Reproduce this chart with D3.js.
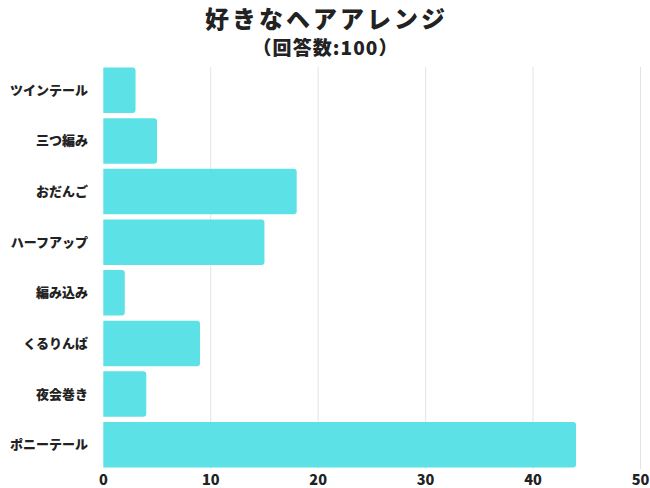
<!DOCTYPE html>
<html>
<head>
<meta charset="utf-8">
<script src="https://cdn.jsdelivr.net/npm/d3@7"></script>
<style>
  body { margin: 0; background: #fff; }
  text { font-family: "Noto Sans CJK JP", "Noto Sans", sans-serif; }
</style>
</head>
<body>
<script>
//chart data
var categories = ["ツインテール", "三つ編み", "おだんご", "ハーフアップ", "編み込み", "くるりんぱ", "夜会巻き", "ポニーテール"];
var counts = [3, 5, 18, 15, 2, 9, 4, 44];
var xTicks = [0, 10, 20, 30, 40, 50];
var title = "好きなヘアアレンジ";
var subtitle = "（回答数:100）";

var w = 650, h = 488;

var svg = d3.select("body")
    .append("svg")
    .attr("width", w)
    .attr("height", h);

var x = d3.scaleLinear()
    .domain([0, 50])
    .range([103.3, 640.5]);

var y = d3.scaleBand()
    .domain(categories)
    .range([65, 470])
    .paddingInner(0.1)
    .paddingOuter(0.05);

//gridlines
svg.append("g")
    .selectAll("line")
    .data(xTicks.slice(1))
    .enter()
    .append("line")
    .attr("x1", function(d){ return x(d); })
    .attr("x2", function(d){ return x(d); })
    .attr("y1", 67)
    .attr("y2", 469)
    .style("stroke", "#e3e3e3")
    .style("stroke-width", 1);

//bars, small rounded right end
var rows = categories.map(function(c, i){ return { name: c, value: counts[i] }; });
var r = 3;
svg.append("g")
    .selectAll("path")
    .data(rows)
    .enter()
    .append("path")
    .attr("d", function(d){
        var x0 = x(0), x1 = x(d.value), y0 = y(d.name), bh = y.bandwidth();
        return "M" + x0 + "," + y0 +
            "H" + (x1 - r) +
            "Q" + x1 + "," + y0 + " " + x1 + "," + (y0 + r) +
            "V" + (y0 + bh - r) +
            "Q" + x1 + "," + (y0 + bh) + " " + (x1 - r) + "," + (y0 + bh) +
            "H" + x0 + "Z";
    })
    .style("fill", "#5ce1e6");

//category labels
svg.append("g")
    .selectAll("text")
    .data(categories)
    .enter()
    .append("text")
    .attr("x", 88)
    .attr("y", function(d){ return y(d) + y.bandwidth() / 2; })
    .attr("dy", "0.35em")
    .attr("text-anchor", "end")
    .style("font-size", "13px")
    .style("font-weight", 900)
    .style("fill", "#222")
    .text(function(d){ return d; });

//x axis tick labels
svg.append("g")
    .selectAll("text")
    .data(xTicks)
    .enter()
    .append("text")
    .attr("x", function(d){ return x(d); })
    .attr("y", 485)
    .attr("text-anchor", "middle")
    .style("font-size", "14.5px")
    .style("font-weight", 900)
    .style("fill", "#222")
    .text(function(d){ return d; });

//titles
svg.append("text")
    .attr("x", w / 2)
    .attr("y", 28)
    .attr("text-anchor", "middle")
    .attr("textLength", 240)
    .attr("lengthAdjust", "spacing")
    .style("font-size", "24px")
    .style("font-weight", 900)
    .style("fill", "#222")
    .text(title);

svg.append("text")
    .attr("x", w / 2)
    .attr("y", 48)
    .attr("dy", "0.35em")
    .attr("text-anchor", "middle")
    .attr("textLength", 145)
    .attr("lengthAdjust", "spacing")
    .style("font-size", "19px")
    .style("font-weight", 900)
    .style("fill", "#222")
    .text(subtitle);
</script>
</body>
</html>
